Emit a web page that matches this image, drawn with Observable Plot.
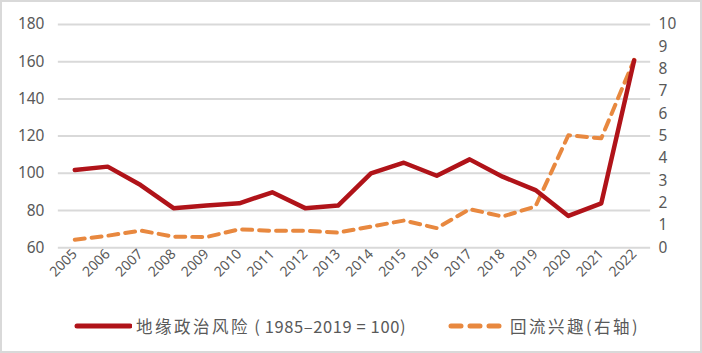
<!DOCTYPE html>
<html><head><meta charset="utf-8">
<script src="https://cdn.jsdelivr.net/npm/d3@7"></script>
<script src="https://cdn.jsdelivr.net/npm/@observablehq/plot@0.6"></script>
<style>
html,body{margin:0;padding:0;background:#fff;}
#wrap{position:relative;width:698px;height:349px;border:2px solid #d9d9d9;overflow:hidden;font-family:"Noto Sans CJK SC","Noto Sans",sans-serif;}
#chart{position:absolute;left:-2px;top:-2px;}
#legend{position:absolute;left:0;top:312px;width:100%;font-size:16.5px;color:#595959;}
.item{position:absolute;display:flex;align-items:center;white-space:nowrap;}
.zh{letter-spacing:2.5px;}
.num{letter-spacing:0.6px;}
</style></head>
<body><div id="wrap"><div id="chart"></div><div id="legend"></div></div>
<script>
const years = ["2005","2006","2007","2008","2009","2010","2011","2012","2013","2014","2015","2016","2017","2018","2019","2020","2021","2022"];
const geoRisk = [101.8,103.6,93.7,81.3,82.7,83.9,89.8,81.3,82.7,100,105.7,98.7,107.5,98.2,91,77.1,83.9,160.7];
const reshoring = [0.36,0.54,0.77,0.5,0.48,0.83,0.76,0.76,0.68,0.95,1.22,0.88,1.73,1.4,1.85,5.04,4.9,8.42];
const leftTicks = [60,80,100,120,140,160,180];
const rightTicks = [0,1,2,3,4,5,6,7,8,9,10];
const seriesZh = ["地缘政治风险", "回流兴趣(右轴)"];
const seriesNote = " ( 1985–2019 = 100)";

const toLeft = v => 60 + v * 12;
const red = "#b01319", orange = "#e8883f";
const dataA = years.map((y,i)=>({year:y, v:geoRisk[i]}));
const dataB = years.map((y,i)=>({year:y, v:toLeft(reshoring[i])}));

const chart = Plot.plot({
  width: 702, height: 300,
  marginTop: 24, marginBottom: 52, marginLeft: 58, marginRight: 50,
  style: {fontFamily: "'Noto Sans', sans-serif", color: "#595959", background: "transparent"},
  x: {type: "band", domain: years, padding: 0, label: null},
  y: {domain: [60,180], label: null},
  marks: [
    Plot.gridY(leftTicks, {stroke: "#d9d9d9", strokeOpacity: 1, strokeWidth: 2}),
    Plot.axisY(leftTicks, {anchor: "left", tickSize: 0, tickPadding: 14, fontSize: 15.5, label: null, fill: "#595959"}),
    Plot.axisY(rightTicks.map(toLeft), {anchor: "right", tickSize: 0, tickPadding: 8, fontSize: 15.5, label: null, fill: "#595959", textAnchor: "start", tickFormat: d => String((d-60)/12)}),
    Plot.axisX(years, {tickSize: 0, tickRotate: -45, fontSize: 14, label: null, fill: "#595959", tickPadding: 4}),
    Plot.line(dataB, {x: "year", y: "v", stroke: orange, strokeWidth: 4, strokeDasharray: "10,7"}),
    Plot.line(dataA, {x: "year", y: "v", stroke: red, strokeWidth: 4.5})
  ]
});
document.getElementById("chart").appendChild(chart);

const lg = document.getElementById("legend");
lg.innerHTML = `<div class="item" style="left:72px;"><svg width="58" height="10"><line x1="3" y1="5" x2="56" y2="5" stroke="${red}" stroke-width="5" stroke-linecap="round"/></svg><span style="margin-left:4px"><span class="zh">${seriesZh[0]}</span><span class="num">${seriesNote}</span></span></div>
<div class="item" style="left:444px;"><svg width="58" height="10"><line x1="5" y1="5" x2="55" y2="5" stroke="${orange}" stroke-width="5" stroke-dasharray="10,9" stroke-linecap="round"/></svg><span class="zh" style="margin-left:6px">${seriesZh[1]}</span></div>`;
</script></body></html>
